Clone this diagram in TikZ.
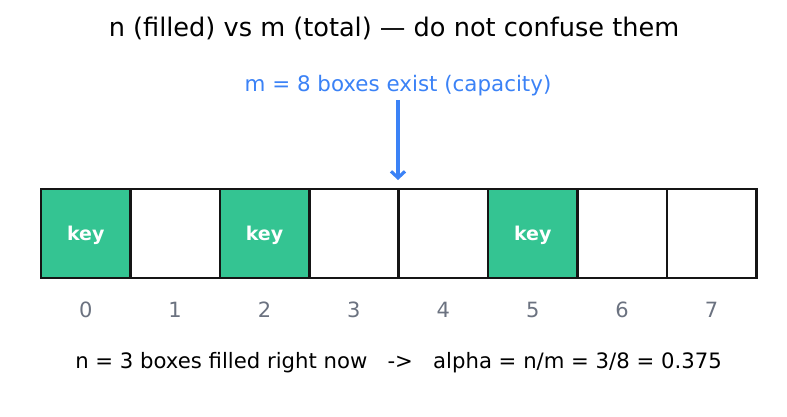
\documentclass[tikz,border=0pt]{standalone}
\usepackage{fontspec}
\setmainfont{DejaVu Sans}
\usetikzlibrary{arrows.meta}
\definecolor{keygreen}{HTML}{34C492}
\definecolor{capblue}{HTML}{3B82F6}
\definecolor{idxgray}{HTML}{6B7280}
\definecolor{edge}{HTML}{151515}

\begin{document}
\begin{tikzpicture}[x=1pt,y=-1pt,
    cell/.style={draw=edge, line width=2.6pt, minimum width=89.4pt, minimum height=89pt, inner sep=0pt},
    keytext/.style={text=white, font=\fontsize{19}{22}\selectfont\bfseries},
    idx/.style={text=idxgray, font=\fontsize{21}{24}\selectfont}]
  \useasboundingbox (0,0) rectangle (787,417);
  \node (title) at (394,28.5) {\fontsize{25.6}{30}\selectfont n (filled) vs m (total) — do not confuse them};
  \node[text=capblue] (cap) at (398,85.5) {\fontsize{21.4}{25}\selectfont m = 8 boxes exist (capacity)};
  % the eight boxes, filled ones carry a key
  \foreach \i/\k in {0/1,1/0,2/1,3/0,4/0,5/1,6/0,7/0} {
    \ifnum\k=1
      \node[cell, fill=keygreen] (box\i) at ({41+89.4*(\i+0.5)},233.5) {};
      \node[keytext, yshift=-2pt] (key\i) at (box\i.center) {key};
    \else
      \node[cell, fill=white] (box\i) at ({41+89.4*(\i+0.5)},233.5) {};
    \fi
    \node[idx] (num\i) at ({41+89.4*(\i+0.5)},309.5) {\i};
  }
  \coordinate (tip) at (398,180);
  \coordinate (tail) at (398,100);
  \draw[capblue, line width=3.2pt, -{Straight Barb[length=6.5pt,width=14pt]}] (tail) -- (tip);
  \node (load) at (398.5,362.5) {\fontsize{21.2}{25}\selectfont n = 3 boxes filled right now\ \ \ ->\ \ \ alpha = n/m = 3/8 = 0.375};
\end{tikzpicture}
\end{document}
